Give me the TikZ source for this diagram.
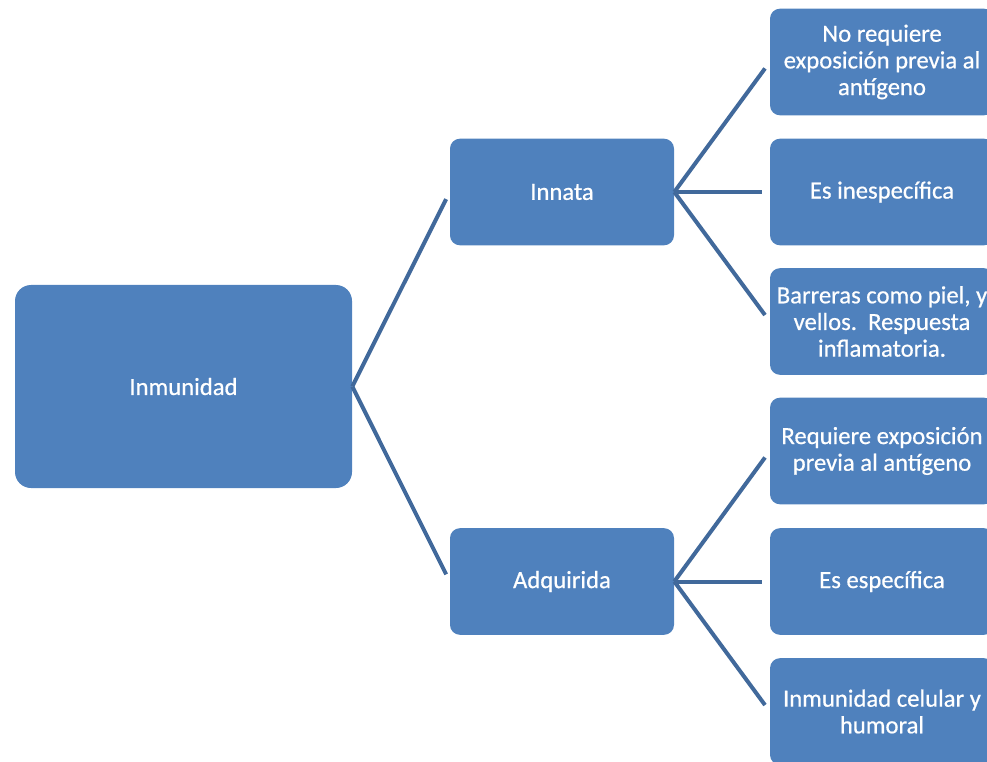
\documentclass[tikz,border=0pt]{standalone}
\usepackage{fontspec}
\setmainfont{Carlito}[FakeBold=0.6]
\definecolor{boxblue}{HTML}{4F81BD}
\definecolor{linkblue}{HTML}{41699B}
\begin{document}
\begin{tikzpicture}[x=0.75pt,y=-0.75pt,
  box/.style={fill=boxblue,text=white,rounded corners=7.5pt,
    minimum width=168pt,minimum height=80pt,inner sep=0pt,
    align=center,font=\fontsize{18.5}{20}\selectfont},
  link/.style={draw=linkblue,line width=3pt,shorten >=6pt}]
\useasboundingbox (0,0) rectangle (987,762);
\clip (0,0) rectangle (987,762);
\node[box,minimum width=252.75pt,minimum height=152.25pt,rounded corners=12pt] (inm) at (183.5,386.5) {Inmunidad};
\node[box] (inn) at (562,192) {Innata};
\node[box] (adq) at (562,581.5) {Adquirida};
\node[box] (r1) at (882,62) {No requiere\\exposición previa al\\antígeno};
\node[box] (r2) at (882,192) {Es inespecífica};
\node[box] (r3) at (882,321.5) {Barreras como piel, y\\vellos.\ \ Respuesta\\inflamatoria.};
\node[box] (r4) at (882,451) {Requiere exposición\\previa al antígeno};
\node[box] (r5) at (882,581.5) {Es específica};
\node[box] (r6) at (882,711.5) {Inmunidad celular y\\humoral};
\draw[link] (inm.east) -- (inn.west);
\draw[link] (inm.east) -- (adq.west);
\foreach \s in {r1,r2,r3}
{ \draw[link] (inn.east) -- (\s.west);};
\foreach \s in {r4,r5,r6}
{ \draw[link] (adq.east) -- (\s.west);};
\end{tikzpicture}
\end{document}
